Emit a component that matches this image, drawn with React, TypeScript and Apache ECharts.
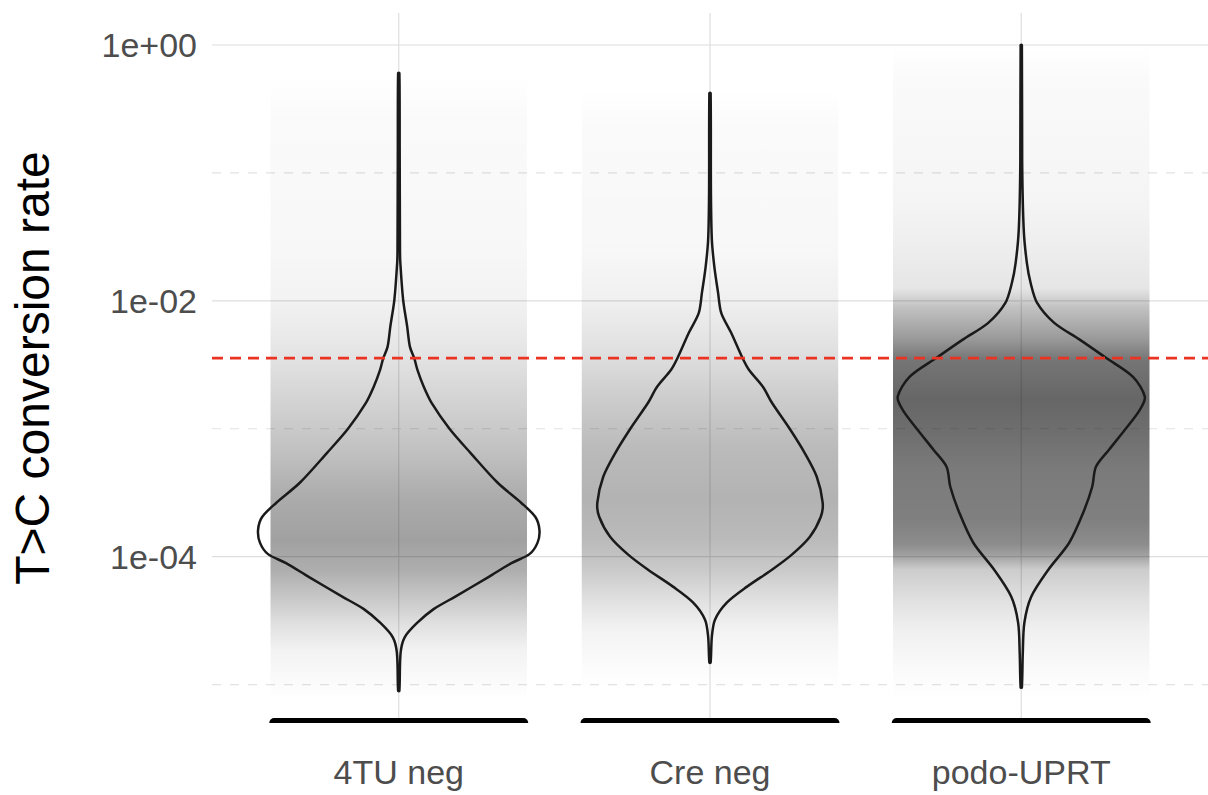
import React, { useEffect, useRef } from 'react';
import * as echarts from 'echarts';

// ---------- data ----------
const categories = ['4TU neg', 'Cre neg', 'podo-UPRT'];
const majorExponents = [-4, -2, 0];
const minorExponents = [-5, -3, -1];
const thresholdRate = 0.00356;
const axisLog10Min = -5.3;
const axisLog10Max = 0.25;
const jitterHalfWidth = 0.4;

// violin outlines: log10(rate) levels and half-widths (x units)
const violin4TULog10 = [-0.22, -0.82, -1.6, -1.7, -1.99, -2.2, -2.36, -2.45, -2.54, -2.67, -2.8, -3.0, -3.19, -3.42, -3.58, -3.69, -3.79, -3.89, -3.98, -4.05, -4.16, -4.31, -4.41, -4.52, -4.63, -4.75, -5.05];
const violin4TUHalfWidth = [0.002, 0.003, 0.004, 0.005, 0.014, 0.027, 0.036, 0.05, 0.06, 0.08, 0.106, 0.163, 0.231, 0.317, 0.394, 0.439, 0.452, 0.446, 0.42, 0.362, 0.288, 0.183, 0.112, 0.058, 0.019, 0.006, 0.002];

const violinCreLog10 = [-0.375, -1.156, -1.523, -1.734, -1.938, -2.094, -2.25, -2.445, -2.539, -2.672, -2.797, -3.0, -3.188, -3.375, -3.578, -3.688, -3.844, -3.984, -4.102, -4.234, -4.359, -4.492, -4.625, -4.828];
const violinCreHalfWidth = [0.002, 0.003, 0.006, 0.014, 0.026, 0.036, 0.068, 0.104, 0.125, 0.17, 0.199, 0.256, 0.304, 0.343, 0.362, 0.356, 0.321, 0.263, 0.199, 0.119, 0.054, 0.016, 0.006, 0.002];

const violinPodoLog10 = [0, -0.922, -1.445, -1.703, -1.859, -2.016, -2.172, -2.305, -2.445, -2.594, -2.75, -2.852, -3.008, -3.164, -3.297, -3.453, -3.656, -3.891, -4.102, -4.313, -4.516, -4.75, -5.023];
const violinPodoHalfWidth = [0.002, 0.003, 0.008, 0.018, 0.03, 0.051, 0.106, 0.189, 0.272, 0.359, 0.397, 0.381, 0.333, 0.282, 0.24, 0.228, 0.199, 0.154, 0.087, 0.032, 0.01, 0.005, 0.002];

// jittered point cloud: overall darkness at log10(rate) levels
const cloud4TULog10 = [-0.23, -0.59, -1.6, -1.99, -2.38, -2.77, -3.16, -3.55, -3.87, -4.1, -4.34, -4.53, -4.73, -4.96, -5.12];
const cloud4TUAlpha = [0, 0.02, 0.03, 0.05, 0.1, 0.17, 0.24, 0.33, 0.37, 0.32, 0.21, 0.12, 0.05, 0.02, 0];

const cloudCreLog10 = [-0.35, -0.66, -1.6, -1.99, -2.38, -2.77, -3.16, -3.55, -3.87, -4.1, -4.34, -4.57, -4.8, -5.04];
const cloudCreAlpha = [0, 0.02, 0.03, 0.06, 0.12, 0.2, 0.27, 0.3, 0.27, 0.21, 0.12, 0.05, 0.02, 0];

const cloudPodoLog10 = [0, -0.27, -1.21, -1.6, -1.9, -2.05, -2.3, -2.46, -2.77, -3.01, -3.32, -3.71, -3.9, -3.99, -4.1, -4.34, -4.57, -4.88, -5.12];
const cloudPodoAlpha = [0, 0.02, 0.04, 0.07, 0.1, 0.24, 0.4, 0.54, 0.6, 0.57, 0.52, 0.5, 0.45, 0.37, 0.2, 0.12, 0.06, 0.02, 0];

// ---------- helpers ----------
const violinLog10 = [violin4TULog10, violinCreLog10, violinPodoLog10];
const violinHalf = [violin4TUHalfWidth, violinCreHalfWidth, violinPodoHalfWidth];
const cloudLog10 = [cloud4TULog10, cloudCreLog10, cloudPodoLog10];
const cloudAlpha = [cloud4TUAlpha, cloudCreAlpha, cloudPodoAlpha];

const FONT = '"Liberation Sans", Arial, Helvetica, sans-serif';

function expLabel(v: number): string {
  const e = Math.round(v);
  const sign = e < 0 ? '-' : '+';
  const a = Math.abs(e);
  return '1e' + sign + (a < 10 ? '0' + a : String(a));
}

export default function App() {
  const ref = useRef<HTMLDivElement>(null);

  useEffect(() => {
    if (!ref.current) return;
    const chart = echarts.init(ref.current, undefined, { renderer: 'svg' });
    const groupData = categories.map((_, i) => [i + 1, 0]);

    const option: any = {
      animation: false,
      backgroundColor: '#ffffff',
      grid: { left: 210, right: 0, top: 13, bottom: 72, containLabel: false },
      xAxis: {
        type: 'value',
        min: 0.4,
        max: 3.6,
        axisLine: { show: false },
        axisTick: { show: false, customValues: [1, 2, 3] },
        splitLine: { show: false },
        axisLabel: {
          customValues: [1, 2, 3],
          formatter: (v: number) => categories[Math.round(v) - 1] ?? '',
          fontSize: 34,
          color: '#4d4d4d',
          fontFamily: FONT,
          margin: 32,
        },
      },
      yAxis: {
        type: 'value',
        min: axisLog10Min,
        max: axisLog10Max,
        name: 'T>C conversion rate',
        nameLocation: 'middle',
        nameGap: 156,
        nameTextStyle: { fontSize: 48, color: '#000000', fontFamily: FONT },
        axisLine: { show: false },
        axisTick: { show: false, customValues: majorExponents },
        splitLine: { show: false },
        axisLabel: {
          customValues: majorExponents,
          formatter: (v: number) => expLabel(v),
          fontSize: 34,
          color: '#4d4d4d',
          fontFamily: FONT,
          margin: 15,
        },
      },
      series: [
        // grid lines
        {
          type: 'custom',
          z: 1,
          silent: true,
          data: [[0, 0]],
          encode: { x: 0, y: 1 },
          renderItem: (params: any, api: any) => {
            const children: any[] = [];
            majorExponents.forEach((e) => {
              const a = api.coord([0.4, e]);
              const b = api.coord([3.6, e]);
              children.push({ type: 'line', shape: { x1: a[0], y1: a[1], x2: b[0], y2: b[1] }, style: { stroke: '#dedede', lineWidth: 1.2 } });
            });
            minorExponents.forEach((e) => {
              const a = api.coord([0.4, e]);
              const b = api.coord([3.6, e]);
              children.push({ type: 'line', shape: { x1: a[0], y1: a[1], x2: b[0], y2: b[1] }, style: { stroke: '#e2e2e2', lineWidth: 1.2, lineDash: [9, 9] } });
            });
            categories.forEach((_, i) => {
              const a = api.coord([i + 1, axisLog10Max]);
              const b = api.coord([i + 1, axisLog10Min]);
              children.push({ type: 'line', shape: { x1: a[0], y1: a[1], x2: b[0], y2: b[1] }, style: { stroke: '#dedede', lineWidth: 1.2 } });
            });
            return { type: 'group', children };
          },
        },
        // point cloud
        {
          type: 'custom',
          z: 2,
          silent: true,
          data: groupData,
          encode: { x: 0, y: 1 },
          renderItem: (params: any, api: any) => {
            const g = params.dataIndex;
            const c = g + 1;
            const ls = cloudLog10[g];
            const as = cloudAlpha[g];
            const tl = api.coord([c - jitterHalfWidth - 0.012, ls[0]]);
            const br = api.coord([c + jitterHalfWidth + 0.012, ls[ls.length - 1]]);
            const span = ls[0] - ls[ls.length - 1];
            const stops = ls.map((l, i) => ({ offset: (ls[0] - l) / span, color: 'rgba(0,0,0,' + as[i] + ')' }));
            return {
              type: 'rect',
              shape: { x: tl[0], y: tl[1], width: br[0] - tl[0], height: br[1] - tl[1], r: 4 },
              style: { fill: new echarts.graphic.LinearGradient(0, 0, 0, 1, stops) },
            };
          },
        },
        // violins
        {
          type: 'custom',
          z: 3,
          silent: true,
          data: groupData,
          encode: { x: 0, y: 1 },
          renderItem: (params: any, api: any) => {
            const g = params.dataIndex;
            const c = g + 1;
            const ls = violinLog10[g];
            const ws = violinHalf[g];
            const pts: number[][] = [];
            for (let i = 0; i < ls.length; i++) pts.push(api.coord([c + ws[i], ls[i]]));
            for (let i = ls.length - 1; i >= 0; i--) pts.push(api.coord([c - ws[i], ls[i]]));
            return {
              type: 'polygon',
              shape: { points: pts, smooth: 0.3 },
              style: { fill: 'none', stroke: '#1a1a1a', lineWidth: 2.5, lineJoin: 'round' },
            };
          },
        },
        // zero-valued points squished to the panel bottom
        {
          type: 'custom',
          z: 4,
          silent: true,
          clip: true,
          data: groupData,
          encode: { x: 0, y: 1 },
          renderItem: (params: any, api: any) => {
            const c = params.dataIndex + 1;
            const a = api.coord([c - jitterHalfWidth, axisLog10Min]);
            const b = api.coord([c + jitterHalfWidth, axisLog10Min]);
            return {
              type: 'line',
              shape: { x1: a[0], y1: a[1], x2: b[0], y2: b[1] },
              style: { stroke: '#000000', lineWidth: 10, lineCap: 'round' },
            };
          },
        },
        // threshold line
        {
          type: 'custom',
          z: 5,
          silent: true,
          data: [[0, 0]],
          encode: { x: 0, y: 1 },
          renderItem: (params: any, api: any) => {
            const y = Math.log10(thresholdRate);
            const a = api.coord([0.4, y]);
            const b = api.coord([3.6, y]);
            return {
              type: 'line',
              shape: { x1: a[0], y1: a[1], x2: b[0], y2: b[1] },
              style: { stroke: '#ea3323', lineWidth: 2.8, lineDash: [11, 7] },
            };
          },
        },
      ],
    };

    chart.setOption(option);
    return () => chart.dispose();
  }, []);

  return (
    <div
      ref={ref}
      style={{ position: 'fixed', left: 0, top: 0, width: 1208, height: 795, background: '#fff' }}
    />
  );
}
